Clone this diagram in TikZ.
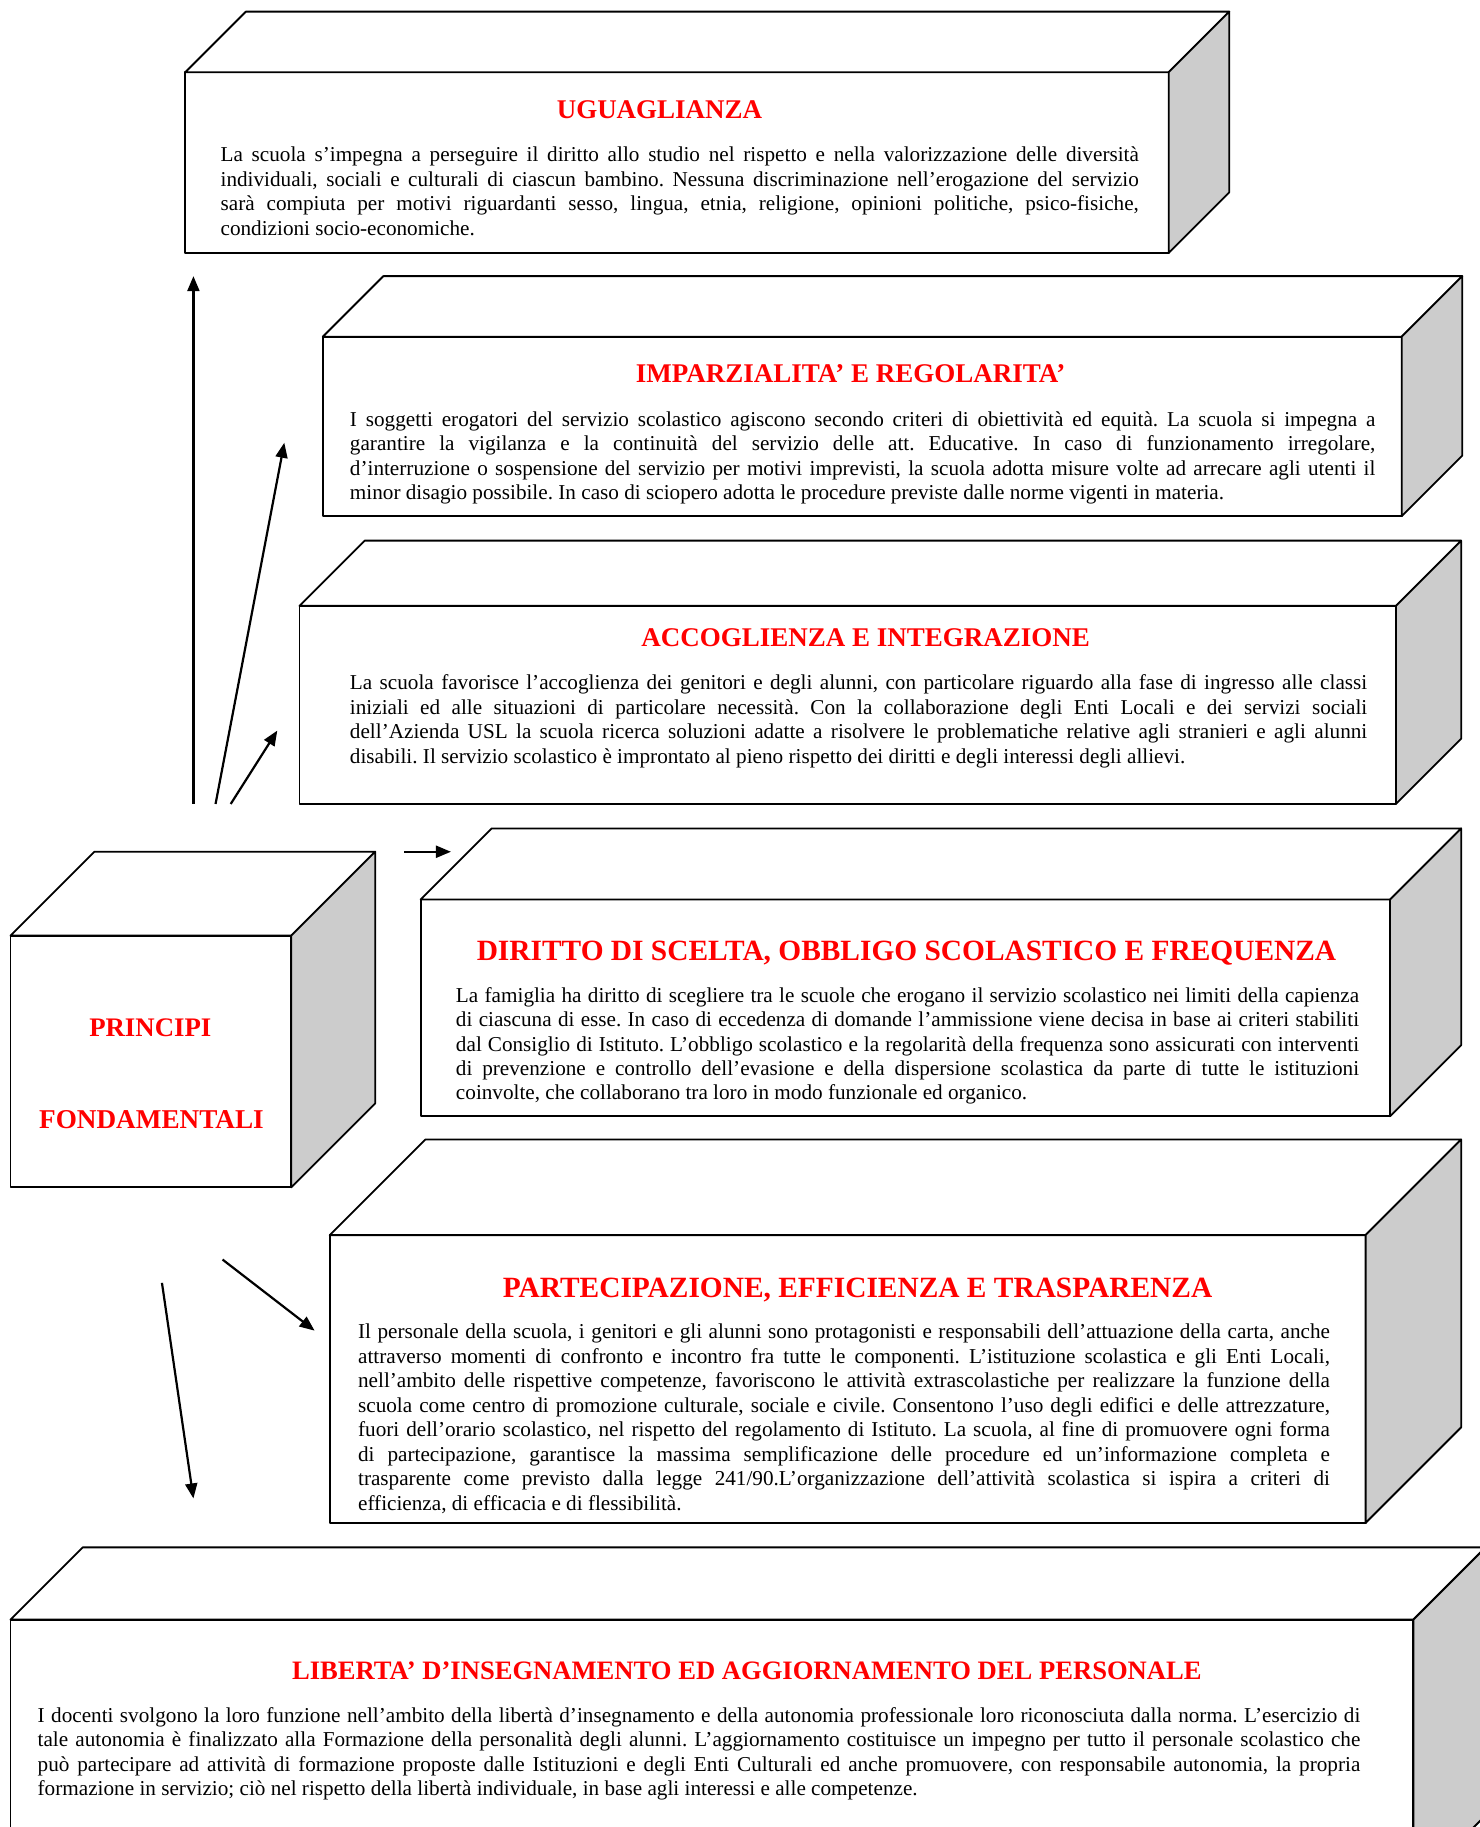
\documentclass[tikz,border=0pt]{standalone}
\usepackage{fontspec}
\setmainfont{Liberation Serif}
\usetikzlibrary{arrows.meta}
\definecolor{sidegray}{RGB}{204,204,204}
\hyphenpenalty=10000
\exhyphenpenalty=10000
\frenchspacing

\begin{document}
\begin{tikzpicture}[x=0.5827pt, y=-0.5827pt,
    face/.style={draw, line width=0.9pt, fill=white, line join=round},
    side/.style={face, fill=sidegray},
    boxtitle/.style={text=red, inner sep=0pt, anchor=base, font=\bfseries\fontsize{13.5}{16}\selectfont},
    bigtitle/.style={boxtitle, font=\bfseries\fontsize{14.7}{17}\selectfont},
    boxtext/.style={inner sep=0pt, anchor=base west, align=justify, font=\fontsize{10.6}{12.24}\selectfont},
    arr/.style={-{Triangle[length=7.5pt,width=6pt]}, line width=1.1pt}]
    \useasboundingbox (0,0) rectangle (1270,1568);
    \clip (0,0) rectangle (1270,1568);

    % the boxes: left/top/right/bottom/depth
    \foreach \l/\t/\r/\b/\d in {159/62/1003/217/52, 277/289/1203/443/52, 257/520/1198/690/56,
        361/772/1193/958/61, 9/803/250/1019/72, 283/1060/1172/1307/82, 9/1390/1213/1620/62}{
      \draw[face] (\l,\t) rectangle (\r,\b);
      \draw[face] (\l,\t) -- ++(\d,-\d) -- (\r+\d,\t-\d) -- (\r,\t) -- cycle;
      \draw[side] (\r,\t) -- (\r+\d,\t-\d) -- (\r+\d,\b-\d) -- (\r,\b) -- cycle;
    }

    \node[boxtitle] (ugu) at (566,101.5) {UGUAGLIANZA};
    \node[boxtext, text width=459.2pt] (ugutxt) at (189,139) {La scuola s’impegna a perseguire il diritto allo studio nel rispetto e nella valorizzazione delle diversità\linebreak
      individuali, sociali e culturali di ciascun bambino. Nessuna discriminazione nell’erogazione del servizio\linebreak
      sarà compiuta per motivi riguardanti sesso, lingua, etnia, religione, opinioni politiche, psico-fisiche,\linebreak
      condizioni socio-economiche.};

    \node[boxtitle] (imp) at (730,328.5) {IMPARZIALITA’ E REGOLARITA’};
    \node[boxtext, text width=512.8pt] (imptxt) at (300,366) {I soggetti erogatori del servizio scolastico agiscono secondo criteri di obiettività ed equità. La scuola si impegna a\linebreak
      garantire la vigilanza e la continuità del servizio delle att. Educative. In caso di funzionamento irregolare,\linebreak
      d’interruzione o sospensione del servizio per motivi imprevisti, la scuola adotta misure volte ad arrecare agli utenti il\linebreak
      minor disagio possibile. In caso di sciopero adotta le procedure previste dalle norme vigenti in materia.};

    \node[boxtitle] (acc) at (743,554.5) {ACCOGLIENZA E INTEGRAZIONE};
    \node[boxtext, text width=508.7pt] (acctxt) at (300,592) {La scuola favorisce l’accoglienza dei genitori e degli alunni, con particolare riguardo alla fase di ingresso alle classi\linebreak
      iniziali ed alle situazioni di particolare necessità. Con la collaborazione degli Enti Locali e dei servizi sociali\linebreak
      dell’Azienda USL la scuola ricerca soluzioni adatte a risolvere le problematiche relative agli stranieri e agli alunni\linebreak
      disabili. Il servizio scolastico è improntato al pieno rispetto dei diritti e degli interessi degli allievi.};

    \node[bigtitle] (dir) at (778,824.5) {DIRITTO DI SCELTA, OBBLIGO SCOLASTICO E FREQUENZA};
    \node[boxtext, text width=451.6pt] (dirtxt) at (391,860) {La famiglia ha diritto di scegliere tra le scuole che erogano il servizio scolastico nei limiti della capienza\linebreak
      di ciascuna di esse. In caso di eccedenza di domande l’ammissione viene decisa in base ai criteri stabiliti\linebreak
      dal Consiglio di Istituto. L’obbligo scolastico e la regolarità della frequenza sono assicurati con interventi\linebreak
      di prevenzione e controllo dell’evasione e della dispersione scolastica da parte di tutte le istituzioni\linebreak
      coinvolte, che collaborano tra loro in modo funzionale ed organico.};

    \node[boxtitle, font=\bfseries\fontsize{13.4}{16}\selectfont] (pri) at (129,889.5) {PRINCIPI};
    \node[boxtitle, font=\bfseries\fontsize{13.6}{16}\selectfont] (fon) at (130,968.5) {FONDAMENTALI};

    \node[bigtitle] (par) at (736,1113.5) {PARTECIPAZIONE, EFFICIENZA E TRASPARENZA};
    \node[boxtext, text width=486pt] (partxt) at (307,1149) {Il personale della scuola, i genitori e gli alunni sono protagonisti e responsabili dell’attuazione della carta, anche\linebreak
      attraverso momenti di confronto e incontro fra tutte le componenti. L’istituzione scolastica e gli Enti Locali,\linebreak
      nell’ambito delle rispettive competenze, favoriscono le attività extrascolastiche per realizzare la funzione della\linebreak
      scuola come centro di promozione culturale, sociale e civile. Consentono l’uso degli edifici e delle attrezzature,\linebreak
      fuori dell’orario scolastico, nel rispetto del regolamento di Istituto. La scuola, al fine di promuovere ogni forma\linebreak
      di partecipazione, garantisce la massima semplificazione delle procedure ed un’informazione completa e\linebreak
      trasparente come previsto dalla legge 241/90.L’organizzazione dell’attività scolastica si ispira a criteri di\linebreak
      efficienza, di efficacia e di flessibilità.};

    \node[boxtitle, font=\bfseries\fontsize{13.3}{16}\selectfont] (lib) at (641,1441.5) {LIBERTA’ D’INSEGNAMENTO ED AGGIORNAMENTO DEL PERSONALE};
    \node[boxtext, text width=661.4pt] (libtxt) at (32,1478) {I docenti svolgono la loro funzione nell’ambito della libertà d’insegnamento e della autonomia professionale loro riconosciuta dalla norma. L’esercizio di\linebreak
      tale autonomia è finalizzato alla Formazione della personalità degli alunni. L’aggiornamento costituisce un impegno per tutto il personale scolastico che\linebreak
      può partecipare ad attività di formazione proposte dalle Istituzioni e degli Enti Culturali ed anche promuovere, con responsabile autonomia, la propria\linebreak
      formazione in servizio; ciò nel rispetto della libertà individuale, in base agli interessi e alle competenze.};

    % arrows
    \coordinate (a1) at (166,690);  \coordinate (b1) at (166,237);
    \coordinate (a2) at (185,690);  \coordinate (b2) at (244,380);
    \coordinate (a3) at (198,690);  \coordinate (b3) at (238,627);
    \coordinate (a4) at (347,731);  \coordinate (b4) at (387,731);
    \coordinate (a5) at (191,1081); \coordinate (b5) at (270,1142);
    \coordinate (a6) at (139,1101); \coordinate (b6) at (166,1286);
    \draw[arr] (a1) -- (b1);
    \draw[arr] (a2) -- (b2);
    \draw[arr] (a3) -- (b3);
    \draw[arr] (a4) -- (b4);
    \draw[arr] (a5) -- (b5);
    \draw[arr] (a6) -- (b6);
\end{tikzpicture}
\end{document}
